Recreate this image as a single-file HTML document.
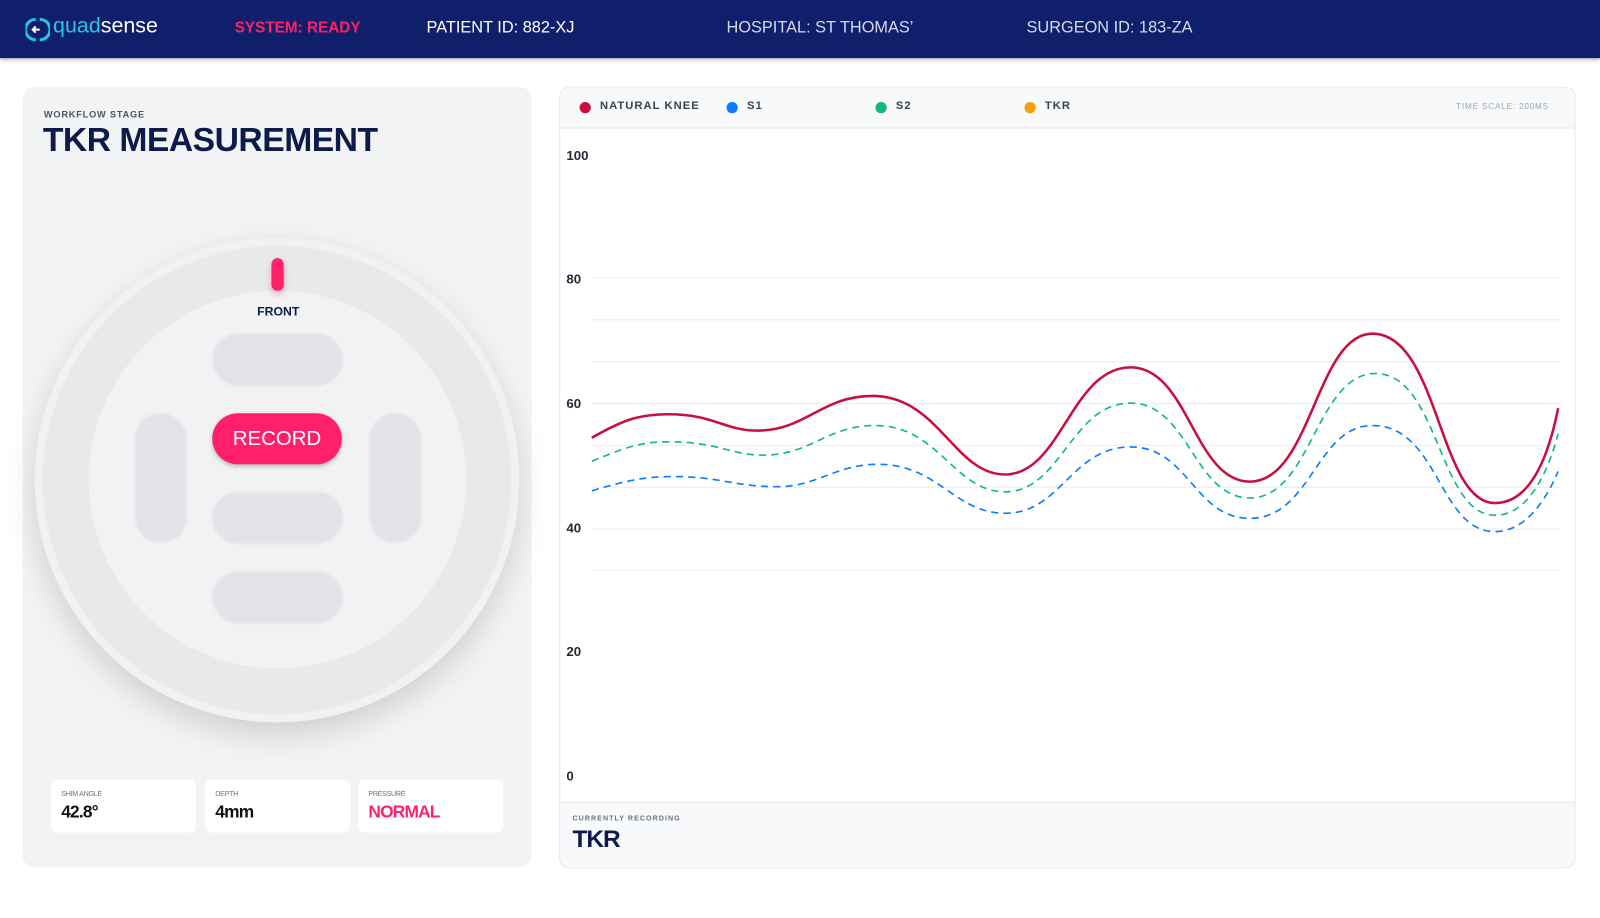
<!DOCTYPE html>
<html><head><style>
*{margin:0;padding:0;box-sizing:border-box}
body{width:1600px;height:900px;background:#fff;font-family:"Liberation Sans",sans-serif;position:relative;overflow:hidden}
#w{position:absolute;left:0;top:0;width:1568px;height:882px;transform:scale(1.020408);transform-origin:0 0}
.hdr{position:absolute;left:0;top:0;width:1600px;height:57px;background:#101f6b;box-shadow:0 2px 4px rgba(0,0,0,.25)}
.hdr span{position:absolute;top:19px;font-size:16px;color:#d6daea}
.abs{position:absolute}
.pill{position:absolute;background:#e1e3e7;border-radius:26px;filter:blur(1px)}
.card{position:absolute;top:764px;width:142px;height:52px;background:#fff;border-radius:6px}
.card .l{position:absolute;left:10px;top:11px;font-size:7px;color:#6b7280;letter-spacing:-.3px}
.card .v{position:absolute;left:10px;top:22px;font-size:17px;font-weight:bold;color:#111;letter-spacing:-.8px}
.yl{position:absolute;left:555px;font-size:13px;font-weight:bold;color:#1f2937}
.lg{position:absolute;top:98px;font-size:11px;font-weight:bold;color:#374151;letter-spacing:1px}
.dot{position:absolute;top:100px;width:11px;height:11px;border-radius:50%}
</style></head><body>
<div class="hdr" style="width:1600px;height:58px"></div>
<div id="w">
<div class="hdr" style="box-shadow:none;width:1568px">
 <svg class="abs" style="left:25px;top:17px" width="24" height="24" viewBox="0 0 24 24"><path d="M10 2A10 10 0 0 0 10 22" stroke="#28c4e6" stroke-width="3" fill="none"/><path d="M14 2A10 10 0 0 1 14 22" stroke="#28c4e6" stroke-width="3" fill="none"/><path d="M7 12H14M10 9L7 12L10 15" stroke="#fff" stroke-width="2" fill="none"/></svg>
 <span style="left:52px;top:14px;font-size:21px;color:#28c4e6">quad<span style="position:static;color:#fff;font-size:21px">sense</span></span>
 <span style="left:230px;color:#ff2266;font-weight:bold;font-size:15px">SYSTEM: READY</span>
 <span style="left:418px;color:#fff">PATIENT ID: 882-XJ</span>
 <span style="left:712px">HOSPITAL: ST THOMAS’</span>
 <span style="left:1006px">SURGEON ID: 183-ZA</span>
</div>
<div class="abs" style="left:22px;top:85px;width:499px;height:765px;background:#f2f3f5;border-radius:12px"></div>
<div class="abs" style="left:43px;top:107px;font-size:9px;font-weight:bold;color:#4b5563;letter-spacing:.8px">WORKFLOW STAGE</div>
<div class="abs" style="left:42px;top:118px;font-size:33px;font-weight:900;color:#0d1b4b;letter-spacing:-0.5px">TKR MEASUREMENT</div>
<div class="abs" style="left:34px;top:233px;width:475px;height:475px;border-radius:50%;background:#e8e9eb;border:8px solid #f0f1f3;box-shadow:0 12px 30px rgba(0,0,0,.15)"></div>
<div class="abs" style="left:87px;top:285px;width:370px;height:370px;border-radius:50%;background:#f1f2f3"></div>
<div class="abs" style="left:266px;top:253px;width:12px;height:32px;border-radius:6px;background:#ff2266;box-shadow:0 3px 6px rgba(255,34,102,.4)"></div>
<div class="abs" style="left:252px;top:298px;font-size:12px;font-weight:bold;color:#0d1b4b">FRONT</div>
<div class="pill" style="left:208px;top:327px;width:128px;height:51px"></div>
<div class="pill" style="left:208px;top:482px;width:128px;height:51px"></div>
<div class="pill" style="left:208px;top:560px;width:128px;height:51px"></div>
<div class="pill" style="left:132px;top:405px;width:51px;height:127px"></div>
<div class="pill" style="left:362px;top:405px;width:51px;height:127px"></div>
<div class="abs" style="left:208px;top:405px;width:127px;height:50px;border-radius:25px;background:#ff1f6b;color:#fff;font-size:20px;text-align:center;line-height:50px;box-shadow:0 2px 4px rgba(0,0,0,.25)">RECORD</div>
<div class="card" style="left:50px"><div class="l">SHIM ANGLE</div><div class="v">42.8°</div></div>
<div class="card" style="left:201px"><div class="l">DEPTH</div><div class="v">4mm</div></div>
<div class="card" style="left:351px"><div class="l">PRESSURE</div><div class="v" style="color:#ff1f6b">NORMAL</div></div>

<div class="abs" style="left:548px;top:85px;width:996px;height:766px;border:1px solid #e5e7eb;border-radius:10px;background:#fff;overflow:hidden">
 <div class="abs" style="left:0;top:0;width:996px;height:40px;background:#f8f9fb;border-bottom:1px solid #e5e7eb"></div>
 <div class="abs" style="left:0;top:700px;width:996px;height:66px;background:#f8f9fb;border-top:1px solid #e5e7eb"></div>
</div>
<div class="dot" style="left:568px;background:#c8103f"></div><div class="lg" style="left:588px">NATURAL KNEE</div>
<div class="dot" style="left:712px;background:#0a7cff"></div><div class="lg" style="left:732px">S1</div>
<div class="dot" style="left:858px;background:#10b981"></div><div class="lg" style="left:878px">S2</div>
<div class="dot" style="left:1004px;background:#f59e0b"></div><div class="lg" style="left:1024px">TKR</div>
<div class="abs" style="left:1427px;top:100px;font-size:8px;color:#9ca3af;letter-spacing:.8px">TIME SCALE: 200MS</div>
<div class="abs" style="left:561px;top:799px;font-size:7px;font-weight:bold;color:#6b7280;letter-spacing:1px">CURRENTLY RECORDING</div>
<div class="abs" style="left:561px;top:809px;font-size:24px;font-weight:900;color:#0d1b4b;letter-spacing:-1px">TKR</div>
<div class="yl" style="top:145px">100</div><div class="yl" style="top:266px">80</div><div class="yl" style="top:388px">60</div><div class="yl" style="top:510px">40</div><div class="yl" style="top:631px">20</div><div class="yl" style="top:753px">0</div>
<svg class="abs" style="left:0;top:0" width="1600" height="900">
 <g stroke="#ececef" stroke-width="1">
 <line x1="580" x2="1530" y1="272.5" y2="272.5"/><line x1="580" x2="1530" y1="313.5" y2="313.5"/><line x1="580" x2="1530" y1="354.5" y2="354.5"/><line x1="580" x2="1530" y1="395.5" y2="395.5"/><line x1="580" x2="1530" y1="436.5" y2="436.5"/><line x1="580" x2="1530" y1="477.5" y2="477.5"/><line x1="580" x2="1530" y1="518.5" y2="518.5"/><line x1="580" x2="1530" y1="558.5" y2="558.5"/>
 </g>
 <path fill="none" stroke="#0a7cff" stroke-width="1.6" stroke-dasharray="7,5" d="M580 481 C610 472 630 467 660 467 C705 467 720 477 762 477 C800 477 820 455 860 455 C920 455 935 503 985 503 C1040 503 1050 438 1108 438 C1165 438 1170 508 1225 508 C1285 508 1290 417 1345 417 C1410 417 1410 521 1465 521 C1495 521 1515 490 1527 462"/>
 <path fill="none" stroke="#10b981" stroke-width="1.6" stroke-dasharray="7,5" d="M580 452 C610 440 625 433 655 433 C705 433 715 446 748 446 C795 446 810 417 858 417 C920 417 935 482 985 482 C1040 482 1050 395 1108 395 C1165 395 1170 488 1225 488 C1285 488 1290 366 1348 366 C1410 366 1410 505 1465 505 C1495 505 1515 470 1527 425"/>
 <path fill="none" stroke="#c8103f" stroke-width="2.5" d="M580 429 C610 412 625 406 655 406 C700 406 710 422 742 422 C790 422 805 388 855 388 C920 388 935 465 985 465 C1040 465 1050 360 1108 360 C1165 360 1170 472 1225 472 C1285 472 1290 327 1345 327 C1410 327 1410 493 1465 493 C1495 493 1515 460 1527 400"/>
</svg>
</div>
</body></html>
